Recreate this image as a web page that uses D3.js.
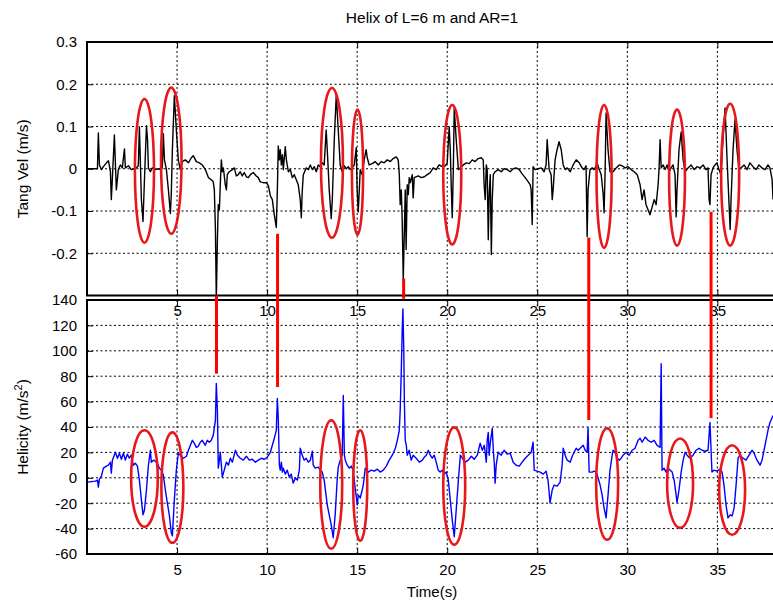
<!DOCTYPE html>
<html>
<head>
<meta charset="utf-8">
<script src="https://cdn.jsdelivr.net/npm/d3@7"></script>
<style>
  html, body { margin: 0; padding: 0; background: #fff; }
  svg { display: block; font-family: "Liberation Sans", Arial, Helvetica, sans-serif; }
</style>
</head>
<body>
<div id="chart"></div>
<script>
// ---- data ----
const xTicks = [5, 10, 15, 20, 25, 30, 35];
const topYTicks = [-0.2, -0.1, 0, 0.1, 0.2, 0.3];
const botYTicks = [-60, -40, -20, 0, 20, 40, 60, 80, 100, 120, 140];

// tangential velocity (m/s) vs time (s)
const tangVel = [
  [0.02,0],[0.58,0],[0.63,0.085],[0.69,0.009],[0.80,-0.002],[0.91,0.005],[1.08,0.014],[1.19,0.019],
  [1.30,-0.007],[1.35,-0.073],[1.41,-0.021],[1.52,0.080],[1.63,-0.050],[1.74,-0.002],[1.85,0.009],
  [1.96,0.002],[2.08,0.047],[2.13,0.002],[2.30,0.007],[2.46,-0.002],[2.63,0],[2.74,0.002],[2.85,0.007],
  [2.91,0.099],[2.96,0.021],[3.02,-0.073],[3.11,-0.125],[3.19,-0.026],[3.30,0.102],[3.36,0.069],
  [3.41,0.002],[3.52,-0.007],[3.63,0.002],[3.80,-0.002],[3.96,0],[4.07,-0.002],[4.18,0.002],[4.24,0.083],
  [4.30,0.021],[4.41,-0.002],[4.52,-0.050],[4.63,-0.106],[4.68,-0.061],[4.74,0.045],[4.85,0.173],
  [4.96,0.092],[5.07,0.021],[5.18,-0.002],[5.29,0.017],[5.46,0.021],[5.63,0.014],[5.79,0.026],[5.90,0.031],
  [6.07,0.017],[6.24,0.014],[6.40,0.009],[6.57,-0.002],[6.74,-0.021],[6.90,-0.026],[7.01,-0.031],
  [7.07,-0.050],[7.13,-0.144],[7.18,-0.31],[7.24,-0.168],[7.29,-0.085],[7.35,-0.097],[7.40,-0.038],
  [7.46,0.021],[7.51,-0.007],[7.57,0.002],[7.68,-0.038],[7.74,-0.050],[7.79,-0.014],[7.90,-0.007],
  [8.07,-0.002],[8.18,0.002],[8.29,-0.017],[8.40,-0.014],[8.51,-0.007],[8.62,-0.017],[8.73,-0.009],
  [8.85,-0.019],[8.96,-0.021],[9.07,-0.014],[9.23,-0.009],[9.40,-0.017],[9.51,-0.021],[9.62,-0.031],
  [9.79,-0.033],[9.96,-0.033],[10.07,-0.040],[10.18,-0.064],[10.29,-0.073],[10.40,-0.109],[10.51,-0.139],
  [10.57,-0.050],[10.62,0.054],[10.68,0.021],[10.73,0.045],[10.79,0.009],[10.85,0.033],[10.90,-0.002],
  [11.01,0.052],[11.07,0.021],[11.18,-0.007],[11.29,-0.002],[11.40,-0.021],[11.51,-0.014],[11.62,-0.026],
  [11.73,-0.038],[11.84,-0.073],[11.90,-0.116],[11.95,-0.054],[12.01,-0.014],[12.17,0.002],[12.29,-0.002],
  [12.40,0.009],[12.51,-0.002],[12.62,0.005],[12.73,-0.007],[12.84,0.009],[12.95,0.005],[13.06,0.014],
  [13.17,0.009],[13.28,0.092],[13.34,0.045],[13.45,-0.050],[13.56,-0.118],[13.62,-0.073],[13.73,0.069],
  [13.84,0.175],[13.95,0.092],[14.06,0.009],[14.17,-0.007],[14.29,0.007],[14.40,0],[14.51,0.005],
  [14.62,-0.002],[14.73,0.002],[14.84,0.009],[14.95,0.050],[15.00,-0.050],[15.06,-0.102],[15.12,-0.050],
  [15.17,-0.002],[15.28,-0.014],[15.39,0.021],[15.50,0.045],[15.56,0.026],[15.67,0.009],[15.84,0.012],
  [16.00,0.017],[16.17,0.009],[16.34,0.017],[16.50,0.014],[16.67,0.021],[16.84,0.017],[17.00,0.024],
  [17.17,0.028],[17.28,0.021],[17.34,-0.014],[17.39,-0.085],[17.45,-0.050],[17.50,-0.121],[17.56,-0.262],
  [17.61,-0.168],[17.67,-0.050],[17.72,-0.191],[17.78,-0.038],[17.84,-0.061],[17.89,-0.021],[17.95,-0.033],
  [18.06,-0.014],[18.11,-0.069],[18.17,-0.021],[18.39,-0.017],[18.56,-0.021],[18.73,-0.019],[18.89,-0.014],
  [19.06,-0.009],[19.22,0.002],[19.39,-0.002],[19.55,0.009],[19.72,0.005],[19.89,0.007],[20.00,0.014],
  [20.11,0.099],[20.17,0.045],[20.23,-0.050],[20.28,-0.116],[20.34,-0.002],[20.39,0.144],[20.50,0.069],
  [20.62,-0.002],[20.73,0.002],[20.89,0.009],[21.06,0.014],[21.22,0.012],[21.39,0.021],[21.55,0.017],
  [21.72,0.024],[21.89,0.026],[22.00,0.021],[22.05,-0.038],[22.11,-0.073],[22.17,0.009],[22.22,-0.002],
  [22.28,-0.168],[22.33,-0.061],[22.39,-0.014],[22.45,-0.203],[22.50,-0.073],[22.56,-0.014],[22.66,-0.007],
  [22.83,-0.002],[23.00,-0.007],[23.16,0],[23.33,-0.002],[23.50,-0.007],[23.66,0],[23.83,0.002],
  [24.00,-0.002],[24.16,-0.012],[24.33,-0.021],[24.50,-0.031],[24.61,-0.038],[24.66,-0.050],[24.72,-0.132],
  [24.77,0.005],[24.88,-0.002],[25.05,0],[25.22,0.002],[25.38,-0.007],[25.49,0.009],[25.55,0.069],
  [25.66,-0.002],[25.77,-0.014],[25.83,-0.073],[25.88,-0.050],[25.99,0.021],[26.10,0.045],[26.21,0.064],
  [26.33,0.045],[26.44,0.009],[26.55,-0.002],[26.66,0.002],[26.83,-0.007],[26.99,0.009],[27.16,0.021],
  [27.33,0.014],[27.49,0.002],[27.60,-0.002],[27.71,0.007],[27.77,-0.161],[27.82,-0.050],[27.93,-0.002],
  [28.05,0.002],[28.16,-0.002],[28.27,0.007],[28.32,0.014],[28.44,-0.002],[28.55,-0.014],[28.66,-0.061],
  [28.71,-0.104],[28.77,-0.002],[28.82,0.132],[28.93,0.045],[29.04,-0.007],[29.21,-0.007],[29.38,0.002],
  [29.55,0.009],[29.71,0.007],[29.88,0.002],[30.04,0.005],[30.21,-0.002],[30.38,-0.007],[30.55,-0.014],
  [30.71,-0.038],[30.82,-0.073],[30.93,-0.050],[31.04,-0.085],[31.15,-0.097],[31.26,-0.109],[31.37,-0.092],
  [31.49,-0.073],[31.60,-0.085],[31.71,-0.038],[31.76,-0.002],[31.82,0.069],[31.88,0.002],[31.99,0.009],
  [32.10,-0.002],[32.21,0.009],[32.32,-0.007],[32.43,0.002],[32.54,0.009],[32.65,-0.014],[32.71,-0.114],
  [32.76,-0.050],[32.87,0.045],[32.99,0.087],[33.10,0.021],[33.21,-0.007],[33.37,0.002],[33.54,0.009],
  [33.71,-0.002],[33.87,0.005],[34.04,0.002],[34.21,0.009],[34.37,-0.002],[34.48,0.002],[34.54,-0.073],
  [34.59,-0.085],[34.65,-0.014],[34.76,0.002],[34.87,0.009],[34.98,0.014],[35.09,-0.002],[35.20,-0.014],
  [35.31,0.069],[35.43,0.144],[35.54,0.021],[35.65,-0.085],[35.71,-0.144],[35.76,-0.073],[35.87,0.045],
  [35.98,0.116],[36.09,0.045],[36.20,-0.002],[36.31,0.002],[36.48,0.009],[36.65,-0.002],[36.81,0.014],
  [36.98,0.005],[37.15,-0.002],[37.31,0.009],[37.48,0.002],[37.65,-0.002],[37.81,0.009],[37.92,0.002],
  [38.04,-0.026],[38.09,-0.073]
];

// helicity (m/s^2) vs time (s)
const helicity = [
  [0.02,-3.4],[0.46,-2.6],[0.58,-1.8],[0.63,-7.3],[0.69,-1.0],[0.80,1.3],[0.91,7.6],[1.08,9.2],[1.19,9.9],
  [1.30,12.3],[1.35,3.7],[1.41,13.9],[1.58,20.1],[1.69,15.4],[1.80,19.3],[1.91,14.6],[2.02,19.3],
  [2.13,13.9],[2.24,18.6],[2.35,15.4],[2.46,17.8],[2.57,9.9],[2.68,11.5],[2.80,9.2],[2.91,-1.8],
  [3.02,-17.4],[3.11,-29.2],[3.19,-25.3],[3.30,-9.6],[3.41,9.9],[3.52,21.7],[3.57,12.3],[3.69,13.9],
  [3.80,13.1],[3.91,11.5],[4.02,7.6],[4.13,6.0],[4.24,2.1],[4.35,-9.6],[4.46,-19.8],[4.57,-29.2],
  [4.68,-43.3],[4.74,-45.7],[4.85,-17.4],[4.96,6.0],[5.07,19.3],[5.18,17.8],[5.35,15.4],[5.52,17.0],
  [5.63,21.7],[5.74,25.6],[5.85,29.5],[5.96,27.1],[6.07,24.0],[6.18,24.8],[6.29,28.0],[6.40,29.5],
  [6.57,25.6],[6.68,29.5],[6.79,28.0],[6.90,29.5],[7.01,33.4],[7.13,45.2],[7.18,74.2],[7.24,53.0],
  [7.29,7.6],[7.35,13.9],[7.40,20.1],[7.46,9.9],[7.51,0.5],[7.62,6.0],[7.74,12.3],[7.85,9.9],[7.96,15.4],
  [8.07,12.3],[8.24,21.7],[8.35,17.8],[8.51,15.4],[8.68,13.9],[8.85,17.0],[9.01,13.9],[9.18,14.6],
  [9.35,12.3],[9.51,13.9],[9.68,15.4],[9.85,14.6],[10.01,16.2],[10.18,20.1],[10.29,25.6],[10.40,31.1],
  [10.51,37.4],[10.57,62.4],[10.62,46.8],[10.68,9.9],[10.73,6.0],[10.79,12.3],[10.85,4.5],[10.90,7.6],
  [11.01,2.9],[11.12,6.0],[11.23,0.5],[11.34,2.9],[11.45,-4.2],[11.57,-0.2],[11.68,-1.8],[11.79,6.0],
  [11.84,23.3],[11.95,17.8],[12.06,13.9],[12.17,15.4],[12.29,12.3],[12.40,13.9],[12.51,20.9],[12.56,9.9],
  [12.67,7.6],[12.84,8.4],[12.95,6.0],[13.06,4.5],[13.17,-1.8],[13.34,-21.4],[13.45,-29.2],[13.56,-37.0],
  [13.67,-47.2],[13.78,-29.2],[13.89,-1.8],[13.95,8.4],[14.06,13.9],[14.17,17.8],[14.23,64.8],[14.29,17.8],
  [14.34,13.9],[14.45,9.9],[14.56,7.6],[14.67,9.2],[14.78,6.0],[14.90,-9.6],[15.01,-21.4],[15.06,-13.5],
  [15.17,-15.9],[15.28,-9.6],[15.34,-5.7],[15.45,7.6],[15.62,4.5],[15.78,6.0],[15.95,5.2],[16.12,6.8],
  [16.28,4.5],[16.45,6.0],[16.62,9.2],[16.78,13.9],[16.95,17.8],[17.12,23.3],[17.23,29.5],[17.34,37.4],
  [17.39,53.0],[17.45,84.3],[17.50,115.6],[17.54,132.9],[17.59,100],[17.62,60.8],[17.67,29.5],[17.73,25.6],
  [17.78,17.8],[17.89,21.7],[18.00,13.9],[18.11,17.8],[18.28,15.4],[18.45,12.3],[18.62,13.9],[18.73,16.2],
  [18.84,17.8],[18.95,21.7],[19.06,17.8],[19.17,15.4],[19.28,17.8],[19.39,12.3],[19.50,6.0],[19.61,4.5],
  [19.72,6.0],[19.83,2.9],[19.95,4.5],[20.06,-1.8],[20.17,-17.4],[20.28,-33.1],[20.39,-46.4],[20.50,-25.3],
  [20.62,-1.8],[20.73,17.8],[20.84,15.4],[21.00,12.3],[21.17,13.9],[21.34,17.0],[21.50,14.6],[21.67,17.8],
  [21.83,27.2],[21.95,21.7],[22.06,25.6],[22.17,12.3],[22.22,29.5],[22.28,35.8],[22.33,17.8],[22.39,27.2],
  [22.50,38.9],[22.56,21.7],[22.61,12.3],[22.66,-4.2],[22.72,9.9],[22.83,20.1],[23.00,17.8],[23.16,21.7],
  [23.33,18.6],[23.50,19.3],[23.66,12.3],[23.83,9.9],[24.00,9.2],[24.16,12.3],[24.33,15.4],[24.50,17.8],
  [24.66,20.1],[24.77,28.0],[24.83,6.0],[24.99,5.2],[25.16,4.5],[25.33,2.9],[25.49,5.2],[25.60,-1.8],
  [25.71,-19.8],[25.83,-9.6],[25.94,-5.7],[26.10,-6.5],[26.27,-3.4],[26.38,9.9],[26.44,23.3],[26.55,17.8],
  [26.66,13.9],[26.83,12.3],[26.94,17.0],[27.05,20.1],[27.16,23.3],[27.27,21.7],[27.44,24.0],[27.55,25.6],
  [27.66,21.7],[27.77,20.1],[27.82,39.7],[27.88,4.5],[28.05,4.5],[28.16,5.2],[28.27,4.5],[28.38,-0.2],
  [28.49,-5.7],[28.60,-13.5],[28.71,-23.7],[28.82,-31.6],[28.93,-13.5],[29.04,6.0],[29.16,17.8],
  [29.21,21.7],[29.32,20.1],[29.43,15.4],[29.55,13.9],[29.66,15.4],[29.77,17.8],[29.93,20.1],[30.10,17.8],
  [30.27,21.7],[30.43,23.3],[30.60,29.5],[30.71,31.1],[30.82,28.0],[30.99,32.1],[31.15,29.5],[31.32,28.0],
  [31.49,29.5],[31.65,25.6],[31.82,24.0],[31.88,89.8],[31.93,6.0],[32.04,7.6],[32.15,4.5],[32.26,7.6],
  [32.38,6.0],[32.49,4.5],[32.60,-1.8],[32.71,-13.5],[32.76,-19.4],[32.87,-9.6],[32.99,4.5],[33.10,13.9],
  [33.21,20.1],[33.32,17.8],[33.48,15.4],[33.65,17.8],[33.82,21.7],[33.98,23.3],[34.15,21.7],[34.32,20.9],
  [34.48,21.7],[34.59,43.6],[34.65,21.7],[34.70,4.5],[34.81,6.0],[34.98,5.2],[35.15,6.8],[35.26,4.5],
  [35.37,-5.7],[35.48,-21.4],[35.59,-31.6],[35.71,-29.2],[35.82,-30.0],[35.93,-23.7],[36.04,-5.7],
  [36.15,15.4],[36.26,17.8],[36.43,15.4],[36.59,13.9],[36.76,17.8],[36.93,21.7],[37.04,19.3],[37.20,13.9],
  [37.37,9.9],[37.48,13.9],[37.59,21.7],[37.70,29.5],[37.81,37.4],[37.92,43.6],[38.09,49.1]
];

// red highlight ellipses: centre time, centre value, half-width (s), half-height (value units)
const topEllipses = [
  [3.19,-0.005,0.53,0.170],[4.68,0.019,0.57,0.173],[13.60,0.014,0.61,0.177],[15.02,-0.008,0.31,0.148],
  [20.28,-0.014,0.50,0.165],[28.71,-0.018,0.42,0.169],[32.76,-0.021,0.44,0.161],[35.71,-0.014,0.50,0.168]
];
const botEllipses = [
  [3.19,-0.6,0.74,38],[4.74,-7.7,0.61,43.5],[13.56,-5.3,0.61,50.5],[15.17,-6.1,0.39,43.5],
  [20.39,-6.5,0.61,46.2],[28.88,-4.9,0.61,43.9],[32.93,-4.2,0.72,35.2],[35.82,-9.6,0.72,35.2]
];
// red connectors: time, start tang vel, end helicity
const connectors = [
  [7.19,-0.30,82],[10.58,-0.154,71.5],[17.58,-0.26,141],[27.86,-0.163,45.5],[34.65,-0.102,47]
];

(function () {
  const W = 773, H = 605;
  const FONT = 15;

  const svg = d3.select('#chart').append('svg')
    .attr('width', W).attr('height', H)
    .style('background', '#fff');

  const x = d3.scaleLinear().domain([0, 38.2]).range([87, 775]);
  const yTop = d3.scaleLinear().domain([-0.3, 0.3]).range([295.5, 42]);
  const yBot = d3.scaleLinear().domain([-60, 140]).range([554, 300]);

  const panels = [
    { id: 'top', y: yTop, data: tangVel, color: '#000', ticks: topYTicks,
      fmt: d => String(+d.toFixed(1)), ellipses: topEllipses },
    { id: 'bot', y: yBot, data: helicity, color: '#0000ff', ticks: botYTicks,
      fmt: d => String(d), ellipses: botEllipses },
  ];

  const defs = svg.append('defs');

  panels.forEach(p => {
    const [yb, yt] = p.y.range();
    const [xl, xr] = x.range();
    const g = svg.append('g').attr('class', 'panel-' + p.id);

    defs.append('clipPath').attr('id', 'clip-' + p.id)
      .append('rect').attr('x', xl).attr('y', yt).attr('width', xr - xl).attr('height', yb - yt);

    // dotted grid
    const grid = g.append('g').attr('stroke', '#000').attr('stroke-width', 1)
      .attr('stroke-dasharray', '2,2.5');
    grid.selectAll('.vg').data(xTicks).join('line')
      .attr('x1', d => x(d)).attr('x2', d => x(d)).attr('y1', yt).attr('y2', yb);
    grid.selectAll('.hg').data(p.ticks.filter(d => p.y(d) > yt + 1 && p.y(d) < yb - 1)).join('line')
      .attr('x1', xl).attr('x2', xr).attr('y1', d => p.y(d)).attr('y2', d => p.y(d));

    // series
    g.append('path').datum(p.data)
      .attr('clip-path', `url(#clip-${p.id})`)
      .attr('fill', 'none').attr('stroke', p.color).attr('stroke-width', 1.4)
      .attr('stroke-linejoin', 'round')
      .attr('d', d3.line().x(d => x(d[0])).y(d => p.y(d[1])));

    // axes, ticks pointing inward
    const yAxis = g.append('g').attr('transform', `translate(${xl},0)`)
      .call(d3.axisLeft(p.y).tickValues(p.ticks).tickSize(-6).tickPadding(10).tickFormat(p.fmt));
    const xAxis = g.append('g').attr('transform', `translate(0,${yb})`)
      .call(d3.axisBottom(x).tickValues(xTicks).tickSize(-6).tickPadding(10).tickFormat(d3.format('d')));
    const xAxisTop = g.append('g').attr('transform', `translate(0,${yt})`)
      .call(d3.axisTop(x).tickValues(xTicks).tickSize(-6).tickFormat(''));

    [yAxis, xAxis, xAxisTop].forEach(a => {
      a.select('.domain').remove();
      a.selectAll('line').attr('stroke', '#000').attr('stroke-width', 1);
      a.selectAll('text').attr('fill', '#000').attr('font-size', FONT + 'px')
        .attr('font-family', '"Liberation Sans", Arial, Helvetica, sans-serif');
    });

    // border (left, top, bottom)
    g.append('path')
      .attr('d', `M${xr},${yt}H${xl}V${yb}H${xr}`)
      .attr('fill', 'none').attr('stroke', '#000').attr('stroke-width', 2);

    // highlight ellipses
    g.append('g').selectAll('ellipse').data(p.ellipses).join('ellipse')
      .attr('cx', d => x(d[0])).attr('cy', d => p.y(d[1]))
      .attr('rx', d => x(d[0] + d[2]) - x(d[0]))
      .attr('ry', d => p.y(d[1] - d[3]) - p.y(d[1]))
      .attr('fill', 'none').attr('stroke', '#e8171b').attr('stroke-width', 2.6);
  });

  // red connector lines across both panels
  svg.append('g').selectAll('line').data(connectors).join('line')
    .attr('x1', d => x(d[0])).attr('x2', d => x(d[0]))
    .attr('y1', d => yTop(d[1])).attr('y2', d => yBot(d[2]))
    .attr('stroke', '#ff0000').attr('stroke-width', 3);

  // titles
  svg.append('text').attr('x', 432).attr('y', 23).attr('text-anchor', 'middle')
    .attr('font-size', '15.5px').text('Helix of L=6 m and AR=1');
  svg.append('text').attr('x', 432).attr('y', 597).attr('text-anchor', 'middle')
    .attr('font-size', FONT + 'px').text('Time(s)');
  svg.append('text')
    .attr('transform', `translate(28,${(yTop.range()[0] + yTop.range()[1]) / 2}) rotate(-90)`)
    .attr('text-anchor', 'middle').attr('font-size', '15.5px').text('Tang Vel (m/s)');
  const hl = svg.append('text')
    .attr('transform', `translate(28,${(yBot.range()[0] + yBot.range()[1]) / 2}) rotate(-90)`)
    .attr('text-anchor', 'middle').attr('font-size', '15.5px');
  hl.append('tspan').text('Helicity (m/s');
  hl.append('tspan').attr('dy', -6).attr('font-size', '11px').text('2');
  hl.append('tspan').attr('dy', 6).text(')');
})();
</script>
</body>
</html>
